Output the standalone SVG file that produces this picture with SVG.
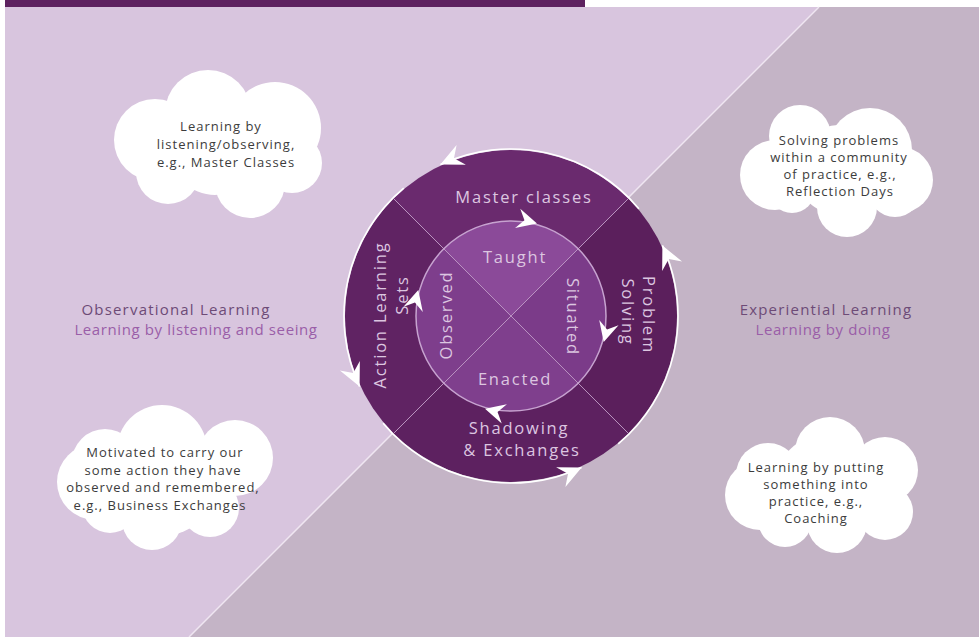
<svg xmlns="http://www.w3.org/2000/svg" width="979" height="637" viewBox="0 0 979 637">
<style>
  .cloud circle { fill: #ffffff; }
  .ct { font-family: "Open Sans", "Liberation Sans", sans-serif; font-size: 13px; fill: #3c3c3c; text-anchor: middle; letter-spacing: 1px; }
  .lab1 { font-family: "Open Sans", "Liberation Sans", sans-serif; font-size: 15px; fill: #6d4b77; text-anchor: middle; letter-spacing: 1.2px; }
  .lab2 { font-family: "Open Sans", "Liberation Sans", sans-serif; font-size: 15px; fill: #9a5ea8; text-anchor: middle; letter-spacing: 0.6px; }
  .rt { font-family: "Open Sans", "Liberation Sans", sans-serif; font-size: 16.5px; fill: #dcc6e0; text-anchor: middle; letter-spacing: 1.8px; }
  .div { stroke: #c9a6cf; stroke-width: 1; stroke-opacity: 0.8; fill: none; }
  .arc { stroke: #ffffff; stroke-width: 1.6; fill: none; }
  .ah { fill: #ffffff; }
</style>
<defs>
  <path id="ahO" d="M0,0 L-23,-11 L-15,0 L-23,11 Z"/>
  <path id="ahI" d="M0,0 L-20,-10 L-13,0 L-20,10 Z"/>
</defs>

<!-- background -->
<g id="background">
  <rect x="0" y="0" width="979" height="637" fill="#ffffff"/>
  <rect x="5" y="0" width="580" height="7" fill="#5e2260"/>
  <polygon points="5,7 819,7 189,637 5,637" fill="#d8c5de"/>
  <polygon points="819,7 979,7 979,637 189,637" fill="#c4b4c6"/>
  <line x1="819" y1="7" x2="189" y2="637" stroke="#efe6f1" stroke-width="1.5"/>
</g>

<!-- outer ring -->
<g id="outer-ring">
  <path id="seg-master" d="M511,316 L393.6,198.6 A166,166 0 0 1 628.4,198.6 Z" fill="#6a2a6e"/>
  <path id="seg-problem" d="M511,316 L628.4,198.6 A166,166 0 0 1 628.4,433.4 Z" fill="#5b1f5c"/>
  <path id="seg-shadow" d="M511,316 L628.4,433.4 A166,166 0 0 1 393.6,433.4 Z" fill="#5d2160"/>
  <path id="seg-action" d="M511,316 L393.6,433.4 A166,166 0 0 1 393.6,198.6 Z" fill="#602363"/>
</g>

<!-- inner circle -->
<g id="inner-circle">
  <path id="seg-taught" d="M511,316 L443.8,248.8 A95,95 0 0 1 578.2,248.8 Z" fill="#8b4a99"/>
  <path id="seg-situated" d="M511,316 L578.2,248.8 A95,95 0 0 1 578.2,383.2 Z" fill="#7b3b89"/>
  <path id="seg-enacted" d="M511,316 L578.2,383.2 A95,95 0 0 1 443.8,383.2 Z" fill="#7f3f8d"/>
  <path id="seg-observed" d="M511,316 L443.8,383.2 A95,95 0 0 1 443.8,248.8 Z" fill="#7e3e8c"/>
  <circle cx="511" cy="316" r="95" fill="none" stroke="#c7a3d0" stroke-width="1.5"/>
  <line class="div" x1="393.6" y1="198.6" x2="628.4" y2="433.4"/>
  <line class="div" x1="628.4" y1="198.6" x2="393.6" y2="433.4"/>
</g>

<!-- ring labels -->
<g id="ring-labels">
  <text class="rt" x="524" y="203">Master classes</text>
  <text class="rt" x="515" y="263">Taught</text>
  <text class="rt" x="515" y="385">Enacted</text>
  <text class="rt" x="519" y="434">Shadowing</text>
  <text class="rt" x="522" y="456">&amp; Exchanges</text>
  <text class="rt" transform="translate(452,315) rotate(-90)">Observed</text>
  <text class="rt" transform="translate(386,315) rotate(-90)">Action Learning</text>
  <text class="rt" transform="translate(408,295) rotate(-90)">Sets</text>
  <text class="rt" transform="translate(567,317) rotate(90)">Situated</text>
  <text class="rt" transform="translate(643,315) rotate(90)">Problem</text>
  <text class="rt" transform="translate(622,312) rotate(90)">Solving</text>
</g>

<!-- connectors: cycle arrows -->
<g id="connectors">
  <path class="arc" d="M440.4,164.6 A167,167 0 0 1 638.9,208.7"/>
  <path class="arc" d="M359.6,386.6 A167,167 0 0 1 403.7,188.1"/>
  <path class="arc" d="M581.6,467.4 A167,167 0 0 1 383.1,423.3"/>
  <path class="arc" d="M662.4,245.4 A167,167 0 0 1 618.3,443.9"/>
  <use href="#ahO" class="ah" transform="translate(440.4,164.6) rotate(155)"/>
  <use href="#ahO" class="ah" transform="translate(359.6,386.6) rotate(65)"/>
  <use href="#ahO" class="ah" transform="translate(581.6,467.4) rotate(-25)"/>
  <use href="#ahO" class="ah" transform="translate(662.4,245.4) rotate(245)"/>
  <use href="#ahI" class="ah" transform="translate(537,223.6) rotate(15)"/>
  <use href="#ahI" class="ah" transform="translate(603.7,342) rotate(105)"/>
  <use href="#ahI" class="ah" transform="translate(485,408.7) rotate(195)"/>
  <use href="#ahI" class="ah" transform="translate(418.3,290) rotate(285)"/>
</g>

<!-- clouds -->
<g id="cloud-master" class="cloud">
  <circle cx="208" cy="113" r="43"/>
  <circle cx="275" cy="128" r="46"/>
  <circle cx="155" cy="140" r="41"/>
  <circle cx="168" cy="172" r="32"/>
  <circle cx="250" cy="183" r="35"/>
  <circle cx="292" cy="163" r="30"/>
  <circle cx="215" cy="150" r="45"/>
  <text class="ct" x="221" y="131">Learning by</text>
  <text class="ct" x="226" y="149">listening/observing,</text>
  <text class="ct" x="226" y="167">e.g., Master Classes</text>
</g>

<g id="cloud-reflection" class="cloud">
  <circle cx="800" cy="136" r="31"/>
  <circle cx="870" cy="150" r="42"/>
  <circle cx="900" cy="180" r="33"/>
  <circle cx="775" cy="175" r="35"/>
  <circle cx="792" cy="190" r="23"/>
  <circle cx="847" cy="207" r="30"/>
  <circle cx="895" cy="190" r="27"/>
  <circle cx="840" cy="170" r="45"/>
  <text class="ct" x="839" y="145">Solving problems</text>
  <text class="ct" x="839" y="162">within a community</text>
  <text class="ct" x="840" y="179">of practice, e.g.,</text>
  <text class="ct" x="840" y="196">Reflection Days</text>
</g>

<g id="cloud-business" class="cloud">
  <circle cx="162" cy="450" r="45"/>
  <circle cx="105" cy="462" r="33"/>
  <circle cx="95" cy="482" r="38"/>
  <circle cx="235" cy="458" r="38"/>
  <circle cx="110" cy="505" r="28"/>
  <circle cx="152" cy="520" r="30"/>
  <circle cx="210" cy="508" r="29"/>
  <circle cx="165" cy="485" r="50"/>
  <text class="ct" x="165" y="457">Motivated to carry our</text>
  <text class="ct" x="163" y="475">some action they have</text>
  <text class="ct" x="163" y="492">observed and remembered,</text>
  <text class="ct" x="160" y="510">e.g., Business Exchanges</text>
</g>

<g id="cloud-coaching" class="cloud">
  <circle cx="768" cy="475" r="32"/>
  <circle cx="830" cy="452" r="35"/>
  <circle cx="885" cy="470" r="33"/>
  <circle cx="760" cy="495" r="35"/>
  <circle cx="785" cy="520" r="27"/>
  <circle cx="837" cy="523" r="30"/>
  <circle cx="885" cy="512" r="28"/>
  <circle cx="825" cy="485" r="50"/>
  <text class="ct" x="816" y="472">Learning by putting</text>
  <text class="ct" x="816" y="489">something into</text>
  <text class="ct" x="816" y="506">practice, e.g.,</text>
  <text class="ct" x="816" y="523">Coaching</text>
</g>

<!-- side labels -->
<g id="label-observational">
  <text class="lab1" x="176" y="315">Observational Learning</text>
  <text class="lab2" x="196" y="335">Learning by listening and seeing</text>
</g>
<g id="label-experiential">
  <text class="lab1" x="826" y="315">Experiential Learning</text>
  <text class="lab2" x="823" y="335">Learning by doing</text>
</g>
</svg>
